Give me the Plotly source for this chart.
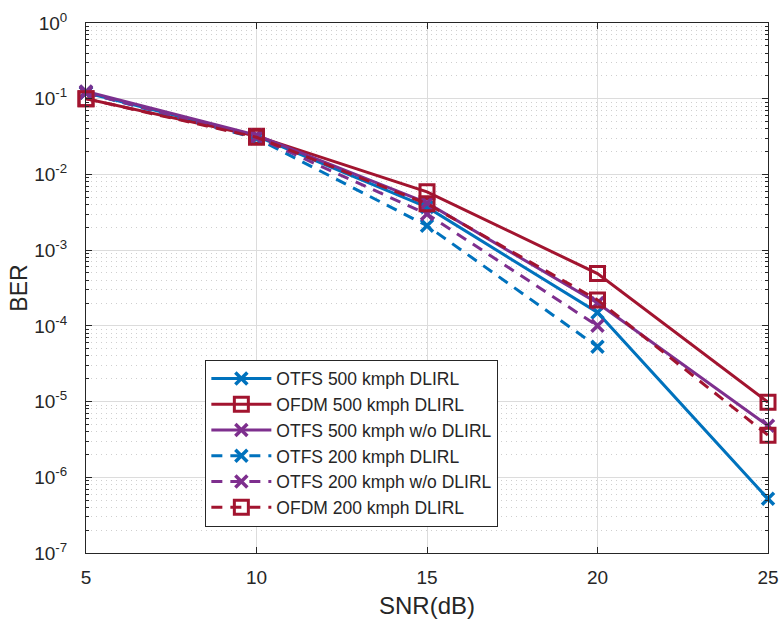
import plotly.graph_objects as go

snr = [5, 10, 15, 20, 25]
snr_200 = [5, 10, 15, 20]

otfs500_dlirl = [0.12, 0.032, 0.0037, 1.5e-4, 5.2e-7]
ofdm500_dlirl = [0.10, 0.032, 0.0059, 4.9e-4, 9.8e-6]
otfs500_wo = [0.125, 0.033, 0.0042, 2.0e-4, 4.8e-6]
otfs200_dlirl = [0.12, 0.030, 0.0021, 5.3e-5]
otfs200_wo = [0.12, 0.031, 0.0030, 1.0e-4]
ofdm200_dlirl = [0.10, 0.031, 0.0041, 2.2e-4, 3.6e-6]

names = ["OTFS 500 kmph DLIRL", "OFDM 500 kmph DLIRL", "OTFS 500 kmph w/o DLIRL",
         "OTFS 200 kmph DLIRL", "OTFS 200 kmph w/o DLIRL", "OFDM 200 kmph DLIRL"]

y_tickvals = [1e0, 1e-1, 1e-2, 1e-3, 1e-4, 1e-5, 1e-6, 1e-7]
y_ticktext = ["10<sup>0</sup>", "10<sup>-1</sup>", "10<sup>-2</sup>", "10<sup>-3</sup>",
              "10<sup>-4</sup>", "10<sup>-5</sup>", "10<sup>-6</sup>", "10<sup>-7</sup>"]
x_tickvals = [5, 10, 15, 20, 25]

BLUE = "#0072BD"
RED = "#A2142F"
PURPLE = "#7E2F8E"

fig = go.Figure()

def add(x, y, name, color, dash, symbol):
    if symbol == "x":
        marker = dict(symbol="x-thin", size=12, line=dict(color=color, width=3.5), color=color)
    else:
        marker = dict(symbol="square-open", size=14, line=dict(color=color, width=3), color=color)
    fig.add_trace(go.Scatter(x=x, y=y, name=name, mode="lines+markers",
                             line=dict(color=color, width=3, dash=dash),
                             marker=marker, cliponaxis=False))

DASH = "11px,8px"
add(snr, otfs500_dlirl, names[0], BLUE, "solid", "x")
add(snr, ofdm500_dlirl, names[1], RED, "solid", "sq")
add(snr, otfs500_wo, names[2], PURPLE, "solid", "x")
add(snr_200, otfs200_dlirl, names[3], BLUE, DASH, "x")
add(snr_200, otfs200_wo, names[4], PURPLE, DASH, "x")
add(snr, ofdm200_dlirl, names[5], RED, DASH, "sq")

font = "Liberation Sans, Arial, sans-serif"

fig.update_layout(
    width=779, height=619,
    margin=dict(l=86, r=11, t=23, b=66),
    paper_bgcolor="white", plot_bgcolor="white",
    font=dict(family=font, size=17, color="#262626"),
    showlegend=True,
    legend=dict(x=0.175, y=0.365, xanchor="left", yanchor="top",
                bgcolor="white", bordercolor="#262626", borderwidth=1,
                font=dict(size=17.5, color="#262626"),
                tracegroupgap=0, itemwidth=60),
)

fig.update_xaxes(
    range=[5, 25], tickvals=x_tickvals, automargin=False,
    showgrid=True, gridcolor="#dcdcdc", gridwidth=1,
    showline=True, linecolor="#262626", linewidth=1, mirror="ticks",
    ticks="inside", ticklen=6, tickcolor="#262626",
    zeroline=False, ticklabeloverflow="allow", ticklabelstandoff=7,
    title=dict(text="SNR(dB)", font=dict(size=24), standoff=13),
    tickfont=dict(size=19),
)

fig.update_yaxes(
    type="log", range=[-7, 0], tickvals=y_tickvals, ticktext=y_ticktext, automargin=False,
    showgrid=True, gridcolor="#dcdcdc", gridwidth=1,
    showline=True, linecolor="#262626", linewidth=1, mirror="ticks",
    ticks="inside", ticklen=6, tickcolor="#262626",
    minor=dict(dtick="D1", showgrid=True, gridcolor="#cfcfcf", griddash="1px,4px",
               ticks="inside", ticklen=3, tickcolor="#262626"),
    zeroline=False, ticklabeloverflow="allow", ticklabelstandoff=14,
    title=dict(text="BER", font=dict(size=23), standoff=0),
    tickfont=dict(size=19),
)

fig.write_html("out.html", config={"displayModeBar": False},
               post_script="document.body.style.margin='0px';")
